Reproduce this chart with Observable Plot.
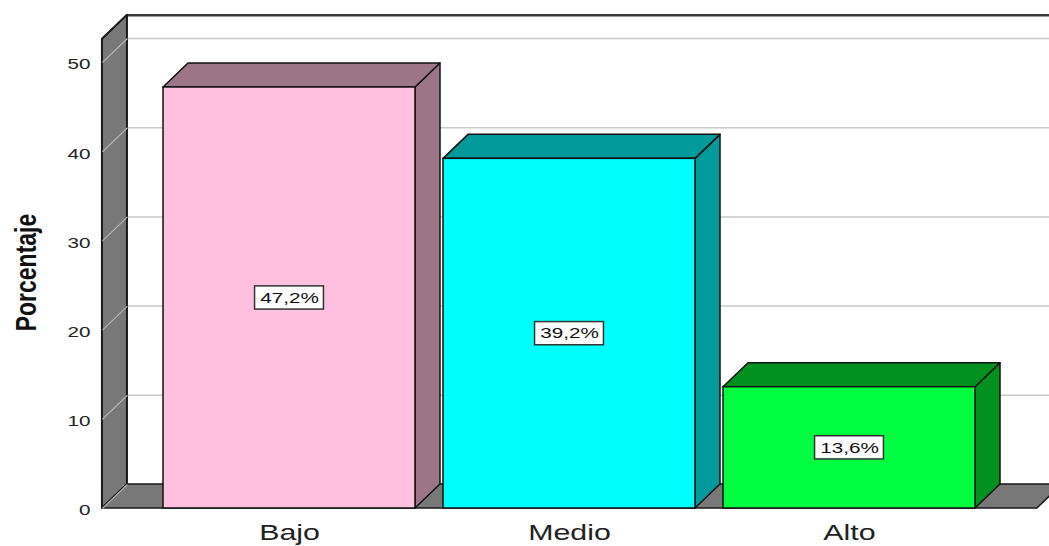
<!DOCTYPE html>
<html>
<head>
<meta charset="utf-8">
<script src="https://cdn.jsdelivr.net/npm/d3@7"></script>
<script src="https://cdn.jsdelivr.net/npm/@observablehq/plot@0.6"></script>
<style>
  html, body { margin: 0; padding: 0; background: #ffffff; }
  #chart svg { display: block; }
</style>
</head>
<body>
<div id="chart"></div>
<script>
// ---- data ----
const categories = ["Bajo", "Medio", "Alto"];
const values = [47.2, 39.2, 13.6];
const frontColors = ["#ffc0e0", "#00ffff", "#00ff40"];
const shadeColors = ["#9c7686", "#009a9a", "#00911f"];
const yTicks = [0, 10, 20, 30, 40, 50];
const yLabel = "Porcentaje";

// ---- 3D geometry (in scale units) ----
const HALF = 0.45;          // half bar width (x units)
const DX = 25 / 280;        // depth offset in x
const DY = 24 / 8.92;       // depth offset in y
const WALL_X = -0.668;      // front edge of left wall
const WALL_TOP = 52.6;      // front top of left wall
const FLOOR_R = 2.671;      // right end of floor (front)
const RIGHT = 2.9;          // right end of back wall

const idx = categories.map((c, i) => i);
const bars = idx.map(i => ({cat: categories[i], i, v: values[i], front: frontColors[i], shade: shadeColors[i],
  label: values[i].toFixed(1).replace(".", ",") + "%"}));

const wall = [
  {x: WALL_X, y1: 0, y2: WALL_TOP},
  {x: WALL_X + DX, y1: DY, y2: WALL_TOP + DY}
];
const floor = [
  {y: 0, x1: WALL_X, x2: FLOOR_R},
  {y: DY, x1: WALL_X + DX, x2: FLOOR_R + DX}
];
const sides = bars.flatMap(b => [
  {cat: b.cat, shade: b.shade, x: b.i + HALF, y1: 0, y2: b.v},
  {cat: b.cat, shade: b.shade, x: b.i + HALF + DX, y1: DY, y2: b.v + DY}
]);
const tops = bars.flatMap(b => [
  {cat: b.cat, shade: b.shade, y: b.v, x1: b.i - HALF, x2: b.i + HALF},
  {cat: b.cat, shade: b.shade, y: b.v + DY, x1: b.i - HALF + DX, x2: b.i + HALF + DX}
]);
const grid = yTicks.filter(t => t > 0);

const chart = Plot.plot({
  width: 1049,
  height: 546,
  marginLeft: 102,
  marginBottom: 38,
  marginTop: 0,
  marginRight: 0,
  style: {background: "#ffffff", fontFamily: "'Liberation Sans', Arial, sans-serif", fontSize: "15px", color: "#1a1a1a"},
  x: {type: "linear", domain: [0, 2], range: [289, 849], label: null},
  y: {domain: [0, 50], range: [508, 62], label: null},
  color: {type: "identity"},
  marks: [
    // back wall grid lines
    Plot.ruleY(grid, {y: d => d + DY, x1: WALL_X + DX, x2: RIGHT, stroke: "#c8c8c8", strokeWidth: 1.5}),
    // back wall top border
    Plot.ruleY([WALL_TOP + DY], {x1: WALL_X + DX, x2: RIGHT, stroke: "#3a3a3a", strokeWidth: 2.5}),
    // floor
    Plot.areaX(floor, {y: "y", x1: "x1", x2: "x2", fill: "#787878", stroke: "#1a1a1a", strokeWidth: 1.5}),
    // left wall
    Plot.areaY(wall, {x: "x", y1: "y1", y2: "y2", fill: "#787878", stroke: "#1a1a1a", strokeWidth: 2}),
    // diagonal grid lines on left wall
    Plot.link(yTicks, {x1: WALL_X, y1: d => d, x2: WALL_X + DX, y2: d => d + DY, stroke: "#b4b4b4", strokeWidth: 1.2}),
    // bar side faces
    Plot.areaY(sides, {x: "x", y1: "y1", y2: "y2", z: "cat", fill: "shade", stroke: "#111", strokeWidth: 1.5}),
    // bar top faces
    Plot.areaX(tops, {y: "y", x1: "x1", x2: "x2", z: "cat", fill: "shade", stroke: "#111", strokeWidth: 1.5}),
    // bar front faces
    Plot.rect(bars, {x1: d => d.i - HALF, x2: d => d.i + HALF, y1: 0, y2: "v", fill: "front", stroke: "#111", strokeWidth: 1.5}),
    // value label boxes
    Plot.rect(bars, {x1: d => d.i - 0.123, x2: d => d.i + 0.123, y1: d => d.v / 2 - 1.3, y2: d => d.v / 2 + 1.3,
      fill: "#ffffff", stroke: "#333", strokeWidth: 1.5}),
    Plot.text(bars, {x: "i", y: d => d.v / 2, text: "label", fill: "#111", fontSize: 15}),
    // axes
    Plot.axisY(yTicks, {tickSize: 0, tickPadding: 12, dy: 2, fontSize: 15, fill: "#222", label: null}),
    Plot.axisX(idx, {tickSize: 0, tickPadding: 16, fontSize: 22, fill: "#222", label: null,
      tickFormat: i => categories[i]}),
    // y axis title
    Plot.text([yLabel], {frameAnchor: "left", dx: -76, dy: 18, rotate: -90, text: d => d,
      textAnchor: "middle", fontSize: 23, fontWeight: "bold", fill: "#111"})
  ]
});

document.getElementById("chart").appendChild(chart);

// the original picture is horizontally stretched: widen the glyphs around their anchors
chart.querySelectorAll("text").forEach(el => {
  const t = el.getAttribute("transform") || "";
  if (t.includes("rotate")) {
    el.setAttribute("transform", t + " scale(1,1.27)");
  } else {
    let x = parseFloat(el.getAttribute("x"));
    if (!isFinite(x)) x = 0;
    el.setAttribute("transform", t + ` translate(${x},0) scale(1.38,1) translate(${-x},0)`);
  }
});
</script>
</body>
</html>
